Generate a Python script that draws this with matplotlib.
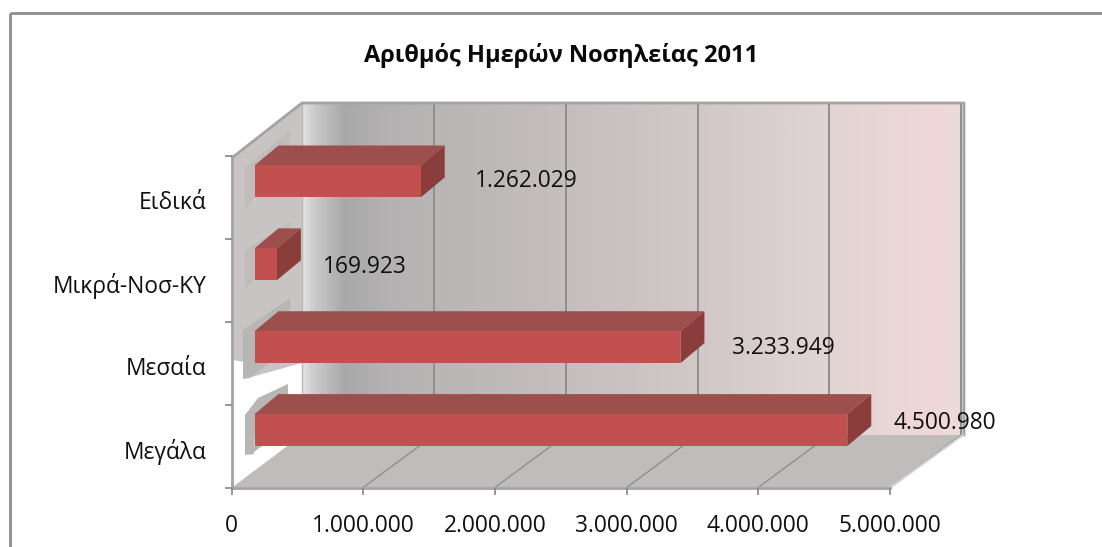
import matplotlib
matplotlib.use("Agg")
import matplotlib.pyplot as plt
import numpy as np
from matplotlib.colors import LinearSegmentedColormap
from matplotlib.patches import Polygon
from matplotlib.ticker import FuncFormatter
from matplotlib.transforms import Affine2D, IdentityTransform

# --- data -------------------------------------------------------------
title = "Αριθμός Ημερών Νοσηλείας 2011"
categories = ["Μεγάλα", "Μεσαία", "Μικρά-Νοσ-ΚΥ", "Ειδικά"]
values = [4500980, 3233949, 169923, 1262029]
x_ticks = [0, 1000000, 2000000, 3000000, 4000000, 5000000]

# --- style ------------------------------------------------------------
W, H = 1102, 547
plt.rcParams["font.family"] = ["Open Sans", "DejaVu Sans"]
TEXT = "#101010"
AXIS = "#a3a3a3"
TICK = "#868686"
GRID = "#8f8f8f"
FRONT, TOP, SIDE = "#c2504e", "#9c4f4c", "#8a3d3b"
FS = 16.4
label_offsets = [(69, 23), (75, 15), (69, 13), (77, 16)]
LABEL_DROP = 0.036

fig = plt.figure(figsize=(W / 100, H / 100), dpi=100, facecolor="white")
L, R, T, B = 231.5, 890, 156, 487.5
ax = fig.add_axes([L / W, 1 - B / H, (R - L) / W, (B - T) / H])
ax.patch.set_visible(False)

# image-pixel transform for the chart's decorative 3D shell
px = Affine2D().scale(1, -1).translate(0, H)
def shell(points, **kw):
    kw.setdefault("lw", 0)
    kw.setdefault("clip_on", False)
    ax.add_patch(Polygon(points, closed=True, transform=px, **kw))

# chart border
for xs, ys in (([9.5, 9.5], [13, 547]), ([9.5, 1102], [13, 13])):
    ax.plot(xs, ys, color="#8c8c8c", lw=2, transform=px, clip_on=False, zorder=0,
            solid_capstyle="butt")

# back wall gradient
stops = [(0.0, "#e2e0e0"), (0.012, "#d0cfcf"), (0.06, "#a9a9a9"), (0.13, "#b4b2b2"),
         (0.35, "#c2bcbc"), (0.6, "#d2c8c8"), (0.8, "#e2d4d4"), (0.97, "#f0d8d8"), (1.0, "#eadcdc")]
cmap = LinearSegmentedColormap.from_list("wall", stops)
ax.imshow(np.linspace(0, 1, 662)[None, :], cmap=cmap, extent=(302, 964, 435, 103),
          transform=px, aspect="auto", clip_on=False, zorder=0.2, interpolation="bilinear")

ax.set_xlim(0, 5000000)
ax.set_ylim(-0.5, 3.5)

# side wall and floor
shell([(233, 157), (302, 103), (302, 363), (248, 378), (243, 362), (233, 360)],
      fc="#c8c4c4", zorder=0.3)
shell([(245, 168), (290, 130), (290, 150), (245, 210)], fc="#c0bcbc", zorder=0.31)
shell([(245, 250), (290, 222), (290, 240), (245, 290)], fc="#c0bcbc", zorder=0.31)
shell([(243, 330), (290, 298), (291, 352), (270, 362), (250, 378), (243, 379)],
      fc="#b8b5b5", zorder=0.31)
shell([(245, 415), (258, 398), (288, 384), (288, 396), (256, 418), (254, 454), (245, 455)],
      fc="#b8b5b5", zorder=0.31)
shell([(252, 446), (262, 446), (250, 455)], fc="#b8b5b5", zorder=0.31)
shell([(232, 487.5), (890, 487.5), (963, 435), (302, 435)], fc="#c0bcbc", zorder=0.4)

# grid on back wall and floor, from the x axis scale
for v in x_ticks[1:]:
    x_disp = ax.transData.transform((v, -0.5))
    x_pix, y_pix = x_disp[0], H - x_disp[1]
    ax.plot([x_pix + 71, x_pix + 71], [y_pix - 52.5, 103], color=GRID, lw=1.4, transform=px,
            clip_on=False, zorder=0.5)
    ax.plot([x_pix, x_pix + 71], [y_pix, y_pix - 52.5], color=GRID, lw=1.0, transform=px,
            clip_on=False, zorder=0.5)
ax.plot([302, 302], [103, 435], color="#b8b8b8", lw=1, transform=px, clip_on=False, zorder=0.5)
ax.plot([233, 302, 964, 964], [157, 103, 103, 435], color=AXIS, lw=2, transform=px,
        clip_on=False, zorder=0.5)
ax.plot([890, 963], [487.5, 435], color="#d0d0d0", lw=1.5, transform=px, clip_on=False, zorder=0.5)

# 3D bars: each face is the value's data rectangle shifted by a screen offset
BAR_H = 0.385
FACE_DX, FACE_DY = 23, 16
DEPTH_DX, DEPTH_DY = 24, 20
def shifted(dx, dy):
    return ax.transData + Affine2D().translate(dx, dy)
for i, v in enumerate(values):
    y0, y1 = i - BAR_H / 2, i + BAR_H / 2
    front = shifted(FACE_DX, FACE_DY).transform([(0, y0), (v, y0), (v, y1), (0, y1)])
    fl, fr, ftr, ftl = front
    d = np.array([DEPTH_DX, DEPTH_DY])
    face = dict(closed=True, transform=IdentityTransform(), clip_on=False, lw=0,
                zorder=2 + (3 - i) * 0.1)
    ax.add_patch(Polygon([ftl, ftr, ftr + d, ftl + d], fc=TOP, **face))
    ax.add_patch(Polygon([fr, fr + d, ftr + d, ftr], fc=SIDE, **face))
    ax.add_patch(Polygon(front, fc=FRONT, **face))
    dx, dy = label_offsets[i]
    ax.annotate(f"{v:,}".replace(",", "."), xy=(v, i), xytext=(dx, dy),
                textcoords="offset pixels", ha="left", va="center",
                fontsize=FS, color=TEXT, annotation_clip=False, zorder=5)

# axes
for s in ("top", "right"):
    ax.spines[s].set_visible(False)
for s in ("left", "bottom"):
    ax.spines[s].set_color(AXIS)
    ax.spines[s].set_linewidth(2)
    ax.spines[s].set_zorder(1)
ax.set_xticks(x_ticks)
ax.xaxis.set_major_formatter(FuncFormatter(lambda v, _: f"{int(v):,}".replace(",", ".")))
ax.tick_params(axis="x", length=5, width=1.2, color=TICK, labelsize=FS, labelcolor=TEXT, pad=14)
ax.set_yticks(np.arange(-0.5, 4, 1))
ax.set_yticklabels([])
ax.set_yticks(np.arange(len(categories)) - LABEL_DROP, labels=categories, minor=True)
ax.tick_params(axis="y", which="major", length=5, width=1.2, color=TICK)
ax.tick_params(axis="y", which="minor", length=0, labelsize=FS, labelcolor=TEXT, pad=18)

fig.text(561.5 / W, 1 - 56 / H, title, ha="center", va="center", fontsize=17,
         fontweight="bold", color="#0a0a0a")

fig.savefig("out.png", dpi=100)
